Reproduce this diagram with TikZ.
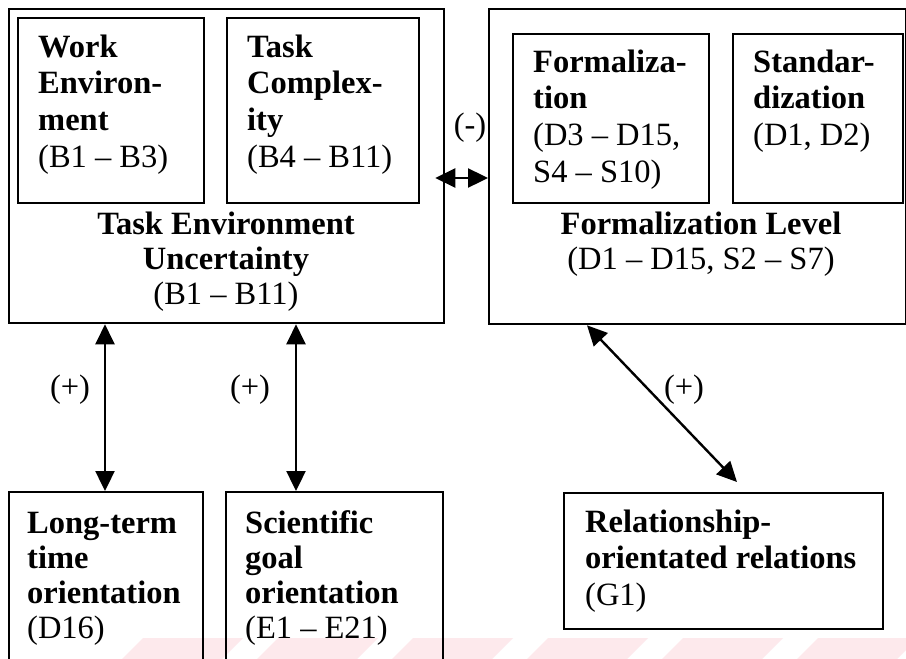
\documentclass[tikz,border=0pt]{standalone}
\usepackage{fontspec}
\setmainfont{Liberation Serif}
\usetikzlibrary{arrows.meta}
\definecolor{wmpink}{HTML}{FDE9EC}
\tikzset{
  box/.style={draw=black, line width=2.3pt, rectangle, inner sep=0pt, anchor=north west},
  txt/.style={inner sep=0pt, anchor=base west, font=\fontsize{32.5}{36.7}\selectfont},
  ctxt/.style={inner sep=0pt, anchor=base, font=\fontsize{32.5}{35}\selectfont},
  tight/.style={font=\fontsize{32.5}{35}\selectfont},
  lbl/.style={inner sep=0pt, font=\fontsize{32.5}{36.7}\selectfont},
  dbl/.style={line width=2.4pt, {Triangle[length=20pt,width=19pt]}-{Triangle[length=20pt,width=19pt]}}
}
\newcommand{\lefttext}[2]{\parbox[t]{#1pt}{\raggedright #2}}
\newcommand{\midtext}[2]{\parbox[t]{#1pt}{\centering #2}}
\begin{document}
\begin{tikzpicture}[x=1pt,y=-1pt]
\useasboundingbox (0,0) rectangle (906,659);
\fill[white] (0,0) rectangle (906,659);

% faint diagonal band along the lower edge
\begin{scope}
\clip (0,0) rectangle (906,659);
\foreach \k in {0,...,5}{
  \fill[wmpink] ({143+135*\k},638) -- ({243+135*\k},638) -- ({222+135*\k},659) -- ({122+135*\k},659) -- cycle;
}
\end{scope}

% boxes
\node[box, minimum width=435, minimum height=314] (teu) at (8,8) {};
\node[box, minimum width=186, minimum height=185] (we) at (17,17) {};
\node[box, minimum width=192, minimum height=185] (tc) at (226,17) {};
\node[box, minimum width=417, minimum height=315] (fl) at (488,8) {};
\node[box, minimum width=196, minimum height=169] (fo) at (512,33) {};
\node[box, minimum width=170, minimum height=169] (st) at (732,33) {};
\node[box, minimum width=194, minimum height=180] (lt) at (8,491) {};
\node[box, minimum width=217, minimum height=180] (sg) at (225,491) {};
\node[box, minimum width=319, minimum height=136] (rel) at (563,492) {};

% texts
\node[txt] (wet) at (38,57) {\lefttext{170}{\textbf{Work}\\\textbf{Environ-}\\\textbf{ment}\\(B1 -- B3)}};
\node[txt] (tct) at (247,57) {\lefttext{170}{\textbf{Task}\\\textbf{Complex-}\\\textbf{ity}\\(B4 -- B11)}};
\node[ctxt] (teut) at (226,234) {\midtext{420}{\textbf{Task Environment}\\\textbf{Uncertainty}\\(B1 -- B11)}};
\node[txt] (fot) at (533,72) {\lefttext{175}{\textbf{Formaliza-}\\\textbf{tion}\\(D3 -- D15,\\S4 -- S10)}};
\node[txt] (stt) at (753,72) {\lefttext{150}{\textbf{Standar-}\\\textbf{dization}\\(D1, D2)}};
\node[ctxt] (flt) at (701,234) {\midtext{410}{\textbf{Formalization Level}\\(D1 -- D15, S2 -- S7)}};
\node[txt, tight] (ltt) at (27,533) {\lefttext{180}{\textbf{Long-term}\\\textbf{time}\\\textbf{orientation}\\(D16)}};
\node[txt, tight] (sgt) at (245,533) {\lefttext{195}{\textbf{Scientific}\\\textbf{goal}\\\textbf{orientation}\\(E1 -- E21)}};
\node[txt] (relt) at (585,532) {\lefttext{300}{\textbf{Relationship-}\\\textbf{orientated relations}\\(G1)}};

% connectors
\draw[dbl] ([xshift=-10pt,yshift=-170pt]teu.north east) -- ([yshift=-170pt]fl.north west);
\draw[dbl] ([xshift=97pt]teu.south west) -- ([xshift=97pt]lt.north west);
\draw[dbl] ([xshift=288pt]teu.south west) -- ([xshift=71pt]sg.north west);
\draw[dbl] ([xshift=99pt]fl.south west) -- ([xshift=174pt,yshift=10pt]rel.north west);

% signs
\node[lbl] (sminus) at (470,128) {(-)};
\node[lbl] (splus1) at (70,390) {(+)};
\node[lbl] (splus2) at (250,390) {(+)};
\node[lbl] (splus3) at (684,390) {(+)};
\end{tikzpicture}
\end{document}
